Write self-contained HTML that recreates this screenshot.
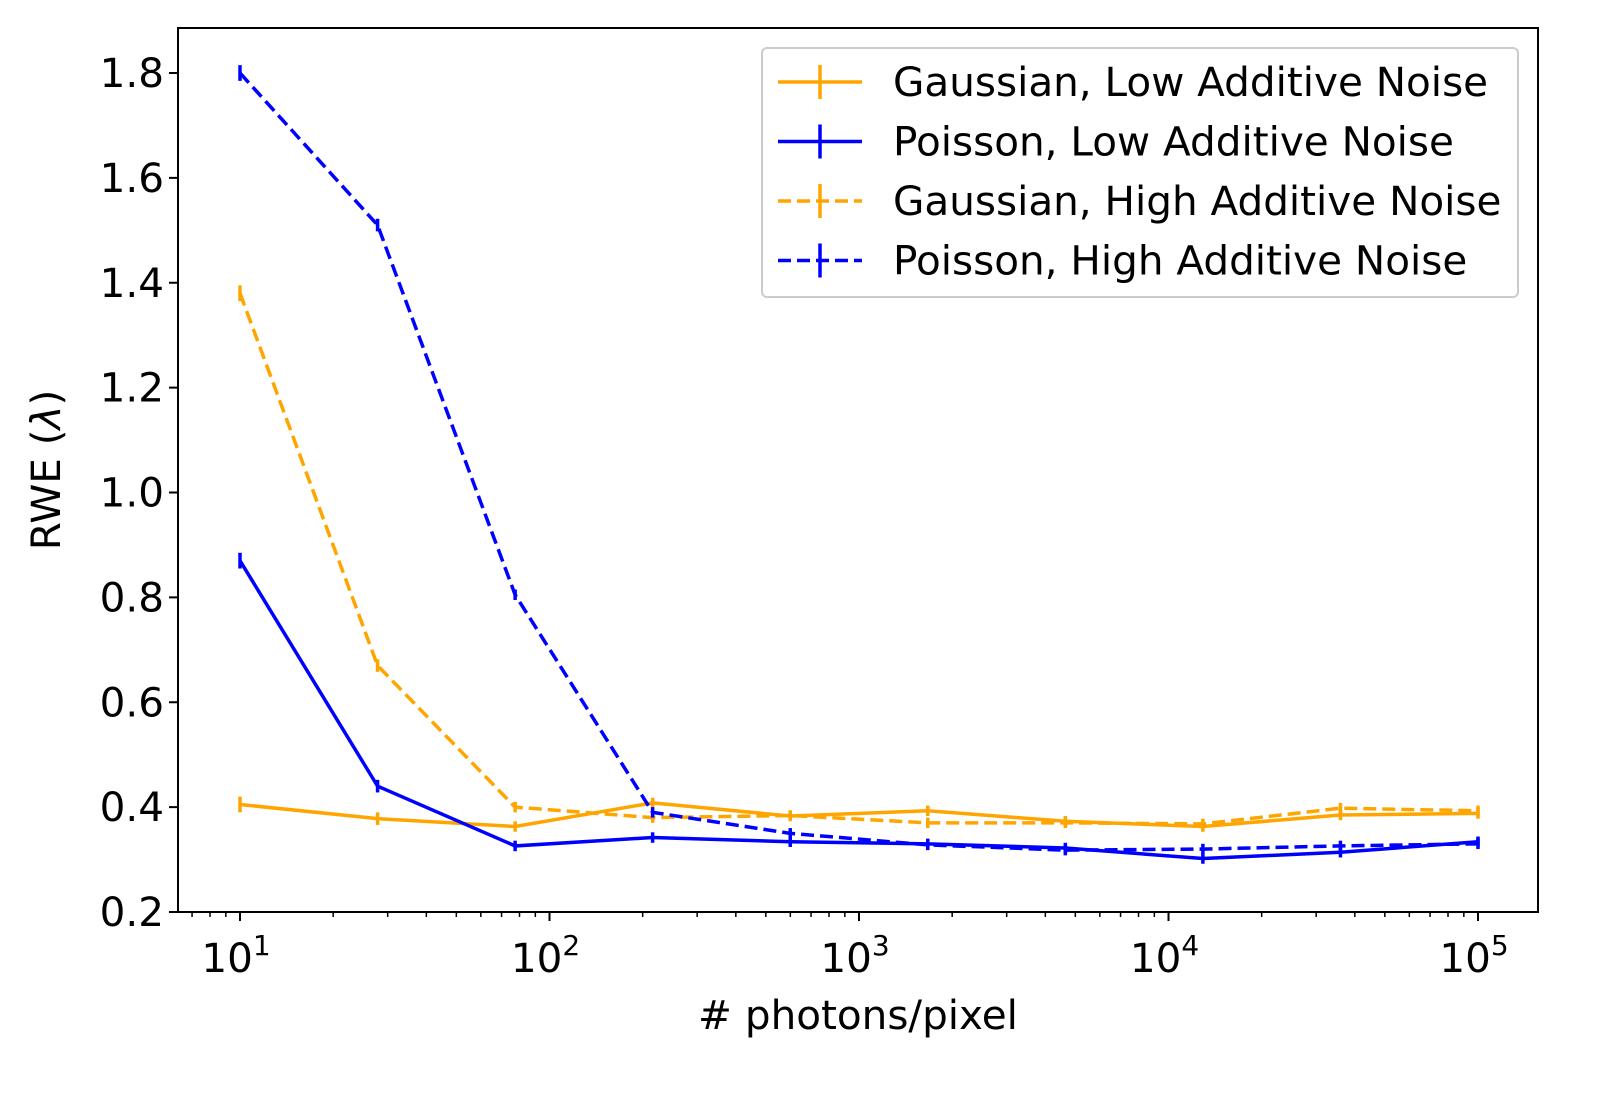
<!DOCTYPE html>
<html><head><meta charset="utf-8"><style>
body{margin:0;background:#fff;}
svg text{font-family:"DejaVu Sans","Liberation Sans",sans-serif;fill:#000;}
</style></head><body>
<svg id="chart" width="1607" height="1092" xmlns="http://www.w3.org/2000/svg">
<rect width="1607" height="1092" fill="#fff"/>
<g id="plot"></g>
</svg>
<script>
const xVals=[10,27.83,77.43,215.4,599.5,1668,4642,12915,35938,100000];
const gaussLow=[0.405,0.378,0.363,0.408,0.383,0.393,0.373,0.363,0.385,0.388];
const poisLow=[0.87,0.44,0.326,0.342,0.334,0.330,0.322,0.302,0.314,0.334];
const gaussHigh=[1.38,0.67,0.40,0.38,0.384,0.37,0.37,0.368,0.398,0.393];
const poisHigh=[1.80,1.51,0.805,0.39,0.35,0.328,0.318,0.32,0.326,0.33];
const errs=[0.015,0.012,0.01,0.01,0.01,0.01,0.01,0.01,0.01,0.01];
const yTicks=[0.2,0.4,0.6,0.8,1.0,1.2,1.4,1.6,1.8];
const yTickLabels=["0.2","0.4","0.6","0.8","1.0","1.2","1.4","1.6","1.8"];
const xTickExps=[1,2,3,4,5];

const L=178,R=1538,T=28,B=912;
const X=v=>240+(Math.log10(v)-1)*309.5;
const Y=v=>912-(v-0.2)/0.2*104.875;
const NS="http://www.w3.org/2000/svg";
const g=document.getElementById('plot');
const FS=40.5;
function mk(t,a,p){const e=document.createElementNS(NS,t);for(const k in a)e.setAttribute(k,a[k]);(p||g).appendChild(e);return e;}

yTicks.forEach((v,i)=>{
  const t=mk('line',{x1:L-9,x2:L,y1:Y(v),y2:Y(v),stroke:'#000','stroke-width':2});
  
  
  const tx=mk('text',{x:L-14,y:Y(v)+14,'text-anchor':'end','font-size':FS});
  tx.textContent=yTickLabels[i];
  
  
});
for(let d=0;d<=5;d++){
  for(let m=1;m<10;m++){
    const v=m*Math.pow(10,d);
    const x=X(v);
    if(x<L||x>R)continue;
    const major=m===1;
    const t=mk('line',{x1:x,x2:x,y1:B,y2:B+(major?9:5),stroke:'#000','stroke-width':major?2:1.5});
    
    
  }
}
xTickExps.forEach(e=>{
  const tx=mk('text',{x:X(Math.pow(10,e))-4,y:B+60,'text-anchor':'middle','font-size':FS});
  tx.innerHTML='10<tspan dy="-17" font-size="28">'+e+'</tspan>';
  
  
});

function series(vals,color,dash,name){
  const s=mk('g',{});
  
  
  const pts=vals.map((v,i)=>X(xVals[i])+','+Y(v)).join(' ');
  mk('polyline',{points:pts,fill:'none',stroke:color,'stroke-width':3.5,'stroke-dasharray':dash||'none'},s);
  vals.forEach((v,i)=>{
    const x=X(xVals[i]);
    const e=mk('line',{x1:x,x2:x,y1:Y(v+errs[i]),y2:Y(v-errs[i]),stroke:color,'stroke-width':3.5},s);
    
    
  });
}
series(gaussLow,'#ffa500','', 'series-gaussian-low');
series(poisLow,'#0000ff','', 'series-poisson-low');
series(gaussHigh,'#ffa500','13,6','series-gaussian-high');
series(poisHigh,'#0000ff','13,6','series-poisson-high');

const frame=mk('rect',{x:L,y:T,width:R-L,height:B-T,fill:'none',stroke:'#000','stroke-width':2});



const lg=mk('g',{});


mk('rect',{x:762,y:48,width:756,height:249,rx:5,fill:'#fff','fill-opacity':0.8,stroke:'#ccc','stroke-width':2},lg);
const legNames=["Gaussian, Low Additive Noise","Poisson, Low Additive Noise","Gaussian, High Additive Noise","Poisson, High Additive Noise"];
const legColors=['#ffa500','#0000ff','#ffa500','#0000ff'];
const legDash=['none','none','13,6','13,6'];
legNames.forEach((n,i)=>{
  const y=82+i*59.5;
  const e=mk('g',{},lg);
  
  
  mk('line',{x1:778,x2:862,y1:y,y2:y,stroke:legColors[i],'stroke-width':3.5,'stroke-dasharray':legDash[i]},e);
  mk('line',{x1:820,x2:820,y1:y-17,y2:y+17,stroke:legColors[i],'stroke-width':3.5},e);
  const t=mk('text',{x:893,y:y+14,'font-size':FS},e);
  t.textContent=n;
});

const xl=mk('text',{x:858,y:1029,'text-anchor':'middle','font-size':FS});
xl.textContent='# photons/pixel';


const yl=mk('text',{x:0,y:0,'text-anchor':'middle','font-size':FS,transform:'translate(60,470) rotate(-90)'});
yl.innerHTML='RWE (<tspan font-style="italic">λ</tspan>)';


</script>
</body></html>
